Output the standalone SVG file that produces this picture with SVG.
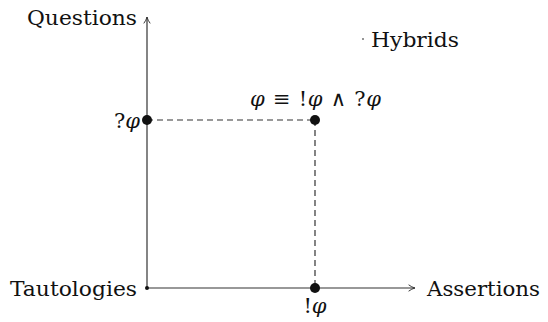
<svg xmlns="http://www.w3.org/2000/svg" width="548" height="322" viewBox="0 0 548 322">
<style>
text{font-family:"DejaVu Serif","Liberation Serif",serif;font-size:21px;fill:#111}
.m{font-style:italic}
.ax{stroke:#333;stroke-width:1.2;fill:none}
.d{stroke:#333;stroke-width:1.2;stroke-dasharray:6,4;fill:none}
.dot{fill:#111}
</style>
<defs>
<marker id="ah" viewBox="0 0 10 10" refX="9" refY="5" markerWidth="8" markerHeight="8" markerUnits="userSpaceOnUse" orient="auto">
<path d="M1,1 Q5,4 9,5 Q5,6 1,9" fill="none" stroke="#333" stroke-width="1.2"/>
</marker>
</defs>
<rect width="548" height="322" fill="#fff"/>
<g id="connectors">
<line class="ax" x1="147" y1="288" x2="147" y2="17" marker-end="url(#ah)"/>
<line class="ax" x1="147" y1="288" x2="415" y2="288" marker-end="url(#ah)"/>
<line class="d" x1="147" y1="120" x2="315" y2="120"/>
<line class="d" x1="315" y1="120" x2="315" y2="288"/>
</g>
<g id="tautologies"><circle class="dot" cx="147" cy="288" r="2"/><text x="10" y="296" textLength="127" lengthAdjust="spacingAndGlyphs">Tautologies</text></g>
<g id="questions"><text x="27" y="25" textLength="110" lengthAdjust="spacingAndGlyphs">Questions</text></g>
<g id="assertions"><text x="427" y="296" textLength="113" lengthAdjust="spacingAndGlyphs">Assertions</text></g>
<g id="hybrids"><circle class="dot" cx="363" cy="39" r="0.8"/><text x="371" y="47" textLength="88" lengthAdjust="spacingAndGlyphs">Hybrids</text></g>
<g id="q-phi"><circle class="dot" cx="147" cy="120" r="5"/><text x="140" y="128" text-anchor="end">?<tspan class="m">φ</tspan></text></g>
<g id="phi"><circle class="dot" cx="315" cy="120" r="5"/><text x="250" y="106" textLength="131"><tspan class="m">φ</tspan> ≡ !<tspan class="m">φ</tspan> ∧ ?<tspan class="m">φ</tspan></text></g>
<g id="a-phi"><circle class="dot" cx="315" cy="288" r="5"/><text x="315" y="313" text-anchor="middle">!<tspan class="m">φ</tspan></text></g>
</svg>
